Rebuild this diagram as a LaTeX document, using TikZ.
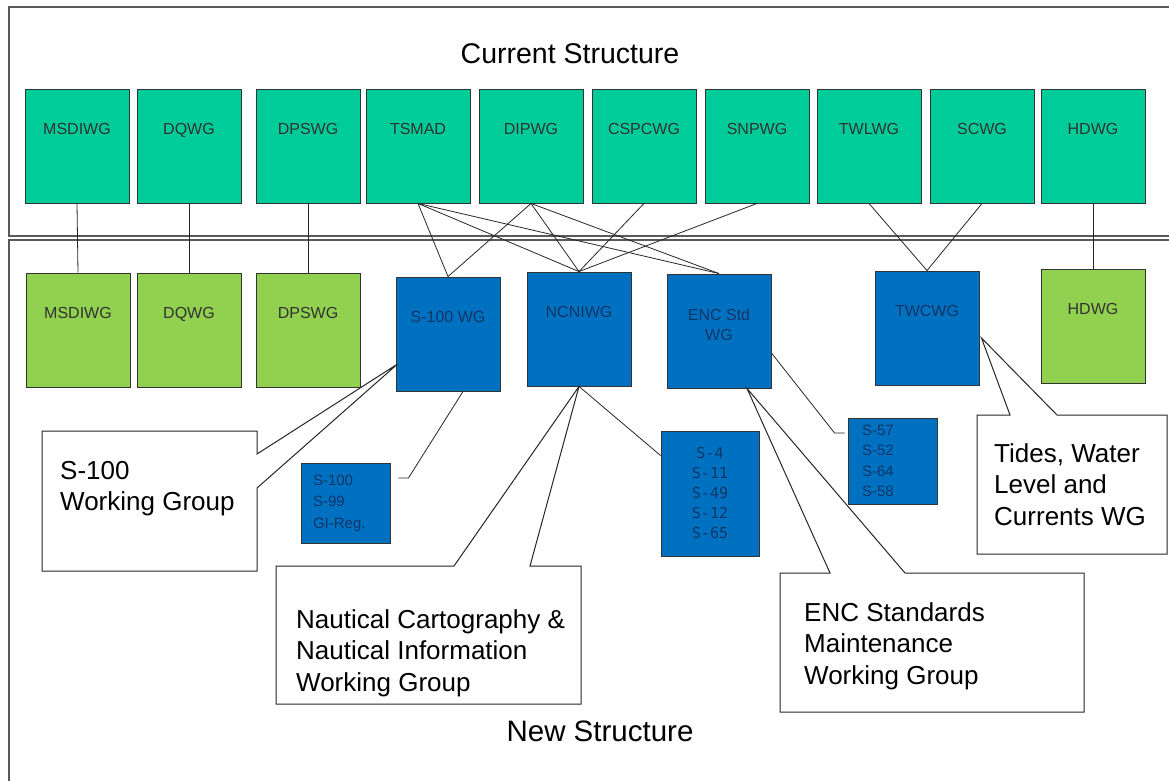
\documentclass[tikz,border=0pt]{standalone}
\usepackage{fontspec}
\setmainfont{Liberation Sans}
\newfontfamily\listfont{DejaVu Sans Mono}
\definecolor{oldgreen}{HTML}{00CC99}
\definecolor{newgreen}{HTML}{92D050}
\definecolor{wgblue}{HTML}{0070C0}
\definecolor{wgnavy}{HTML}{123766}
\begin{document}
\begin{tikzpicture}[x=1pt,y=-1pt,
    frame/.style={draw=black!65,line width=1.5pt},
    wg/.style={draw=black!80,line width=0.9pt,minimum width=104pt,minimum height=114pt,inner sep=0pt},
    oldwg/.style={wg,fill=oldgreen},
    newwg/.style={wg,fill=newgreen},
    bluewg/.style={wg,fill=wgblue},
    wgname/.style={anchor=north,yshift=-35pt,inner sep=0pt,align=center,font=\fontsize{16}{20}\selectfont,text=black!80},
    bluename/.style={wgname,text=wgnavy},
    speclist/.style={draw=black!80,line width=0.9pt,fill=wgblue,inner ysep=0pt,text=wgnavy},
    link/.style={draw=black!85,line width=0.8pt},
    callout/.style={draw=black!85,line width=1pt,fill=white},
    callouttext/.style={anchor=north west,inner sep=0pt,align=left,font=\fontsize{26}{31.5}\selectfont},
    heading/.style={font=\fontsize{28.5}{34}\selectfont,inner sep=0pt}]
  \useasboundingbox (0,0) rectangle (1169,781);
  \clip (0,0) rectangle (1169,781);

  % the two frames
  \draw[frame] (1180,7) -- (9,7) -- (9,236) -- (1180,236);
  \draw[frame] (1180,240) -- (9,240) -- (9,790);
  \node[heading] (curtitle) at (570,54) {Current Structure};
  \node[heading,font=\fontsize{29.5}{34}\selectfont] (newtitle) at (600,731) {New Structure};

  % current structure
  \node[oldwg,label={[wgname]north:MSDIWG}] (cMSDIWG) at (77,146) {};
  \node[oldwg,label={[wgname]north:DQWG}] (cDQWG) at (189,146) {};
  \node[oldwg,label={[wgname]north:DPSWG}] (cDPSWG) at (308,146) {};
  \node[oldwg,label={[wgname]north:TSMAD}] (cTSMAD) at (418,146) {};
  \node[oldwg,label={[wgname]north:DIPWG}] (cDIPWG) at (531,146) {};
  \node[oldwg,label={[wgname]north:CSPCWG}] (cCSPCWG) at (644,146) {};
  \node[oldwg,label={[wgname]north:SNPWG}] (cSNPWG) at (757,146) {};
  \node[oldwg,label={[wgname]north:TWLWG}] (cTWLWG) at (869,146) {};
  \node[oldwg,label={[wgname]north:SCWG}] (cSCWG) at (982,146) {};
  \node[oldwg,label={[wgname]north:HDWG}] (cHDWG) at (1093,146) {};

  % new structure
  \node[newwg,label={[wgname]north:MSDIWG}] (nMSDIWG) at (78,330) {};
  \node[newwg,label={[wgname]north:DQWG}] (nDQWG) at (189,330) {};
  \node[newwg,label={[wgname]north:DPSWG}] (nDPSWG) at (308,330) {};
  \node[bluewg,label={[bluename]north:S-100 WG}] (s100wg) at (448,334) {};
  \node[bluewg,label={[bluename]north:NCNIWG}] (ncniwg) at (579,329) {};
  \node[bluewg,label={[bluename]north:ENC Std\\WG}] (encwg) at (719,331) {};
  \node[bluewg,label={[bluename]north:TWCWG}] (twcwg) at (927,328) {};
  \node[newwg,label={[wgname]north:HDWG}] (nHDWG) at (1093,326) {};

  \node[speclist,minimum width=89pt,minimum height=80pt,text width=65pt,inner xsep=12pt,align=left,font=\fontsize{15}{21.5}\selectfont] (list100) at (345.5,503) {S-100\\S-99\\GI-Reg.};
  \node[speclist,minimum width=98pt,minimum height=125pt,text width=90pt,inner xsep=4pt,align=center,font=\listfont\fontsize{15}{20}\selectfont] (list4) at (710,493.5) {S-4\\S-11\\S-49\\S-12\\S-65};
  \node[speclist,minimum width=89pt,minimum height=86pt,text width=61pt,inner xsep=14pt,align=left,font=\fontsize{15}{20.5}\selectfont] (list57) at (892.5,461) {S-57\\S-52\\S-64\\S-58};

  % links
  \draw[link] (cMSDIWG.south) -- (nMSDIWG.north);
  \draw[link] (cDQWG.south) -- (nDQWG.north);
  \draw[link] (cDPSWG.south) -- (nDPSWG.north);
  \draw[link] (cHDWG.south) -- (nHDWG.north);
  \draw[link] (cTSMAD.south) -- (s100wg.north);
  \draw[link] (cTSMAD.south) -- (ncniwg.north);
  \draw[link] (cTSMAD.south) -- (encwg.north);
  \draw[link] (cDIPWG.south) -- (s100wg.north);
  \draw[link] (cDIPWG.south) -- (ncniwg.north);
  \draw[link] (cDIPWG.south) -- (encwg.north);
  \draw[link] (cCSPCWG.south) -- (ncniwg.north);
  \draw[link] (cSNPWG.south) -- (ncniwg.north);
  \draw[link] (cTWLWG.south) -- (twcwg.north);
  \draw[link] (cSCWG.south) -- (twcwg.north);
  \draw[link] ([xshift=15pt]s100wg.south) -- ([xshift=18pt,yshift=25pt]list100.east) -- ([xshift=8pt,yshift=25pt]list100.east);
  \draw[link] (ncniwg.south) -- ([yshift=38pt]list4.west);
  \draw[link] ([yshift=-22pt]encwg.east) -- ([xshift=-13pt,yshift=28pt]list57.west) -- ([xshift=-3pt,yshift=28pt]list57.west);

  % callouts
  \draw[callout] (42,431) -- (257,431) -- (257,454) -- ([xshift=2pt,yshift=-30pt]s100wg.west) -- (257,488) -- (257,571) -- (42,571) -- cycle;
  \draw[callout] (276,566) -- (454,566) -- (ncniwg.south) -- (530,566) -- (581,566) -- (581,704) -- (276,704) -- cycle;
  \draw[callout] (780,573) -- (830,573) -- ([xshift=28pt]encwg.south) -- (905,573) -- (1084,573) -- (1084,712) -- (780,712) -- cycle;
  \draw[callout] (977,415) -- (1010,415) -- ([xshift=2pt,yshift=-10pt]twcwg.east) -- (1057,415) -- (1167,415) -- (1167,554) -- (977,554) -- cycle;
  \node[callouttext] (s100txt) at (60,461) {S-100\\Working Group};
  \node[callouttext] (nctxt) at (296,609) {Nautical Cartography \&\\Nautical Information\\Working Group};
  \node[callouttext] (enctxt) at (804,602) {ENC Standards\\Maintenance\\Working Group};
  \node[callouttext] (tidestxt) at (994,443) {Tides, Water\\Level and\\Currents WG};
\end{tikzpicture}
\end{document}
